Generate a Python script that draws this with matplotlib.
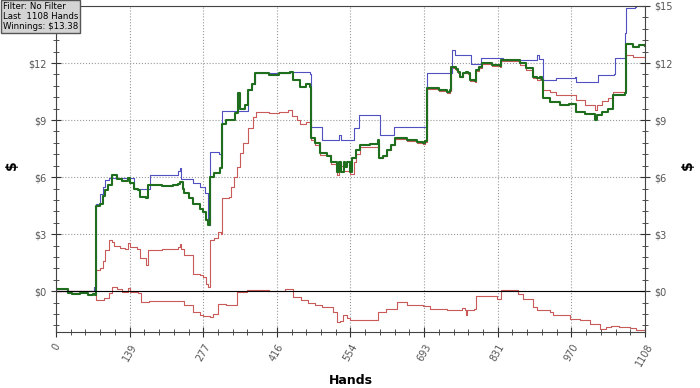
import numpy as np
import matplotlib
matplotlib.use('Agg')
import matplotlib.pyplot as plt
from matplotlib.ticker import AutoMinorLocator, FixedLocator

# Net won (green, thick)
net_hands = [0, 20, 22, 30, 45, 60, 70, 74, 75, 83, 88, 92, 98, 105, 115, 125, 136, 140, 146,
             155, 158, 170, 174, 200, 220, 230, 234, 238, 240, 250, 258, 270, 277, 283, 286,
             290, 298, 308, 312, 320, 336, 343, 346, 355, 362, 368, 374, 400, 420, 440, 446,
             459, 470, 478, 480, 487, 497, 510, 518, 528, 533, 536, 541, 544, 548, 554, 557,
             565, 572, 590, 606, 608, 615, 622, 630, 638, 660, 680, 691, 695, 697, 720, 735,
             742, 744, 752, 756, 760, 766, 772, 776, 779, 788, 791, 796, 801, 820, 835, 838,
             850, 873, 885, 898, 904, 910, 915, 917, 930, 948, 965, 976, 979, 995, 1014, 1017,
             1028, 1039, 1048, 1071, 1072, 1085, 1097, 1108]
net_won = [0.1, 0.1, -0.1, -0.15, -0.1, -0.2, -0.15, -0.2, 4.5, 4.6, 5.0, 5.3, 5.6, 6.1, 5.9,
           5.8, 5.95, 5.7, 5.4, 5.3, 4.96, 4.9, 5.58, 5.55, 5.6, 5.65, 5.75, 5.4, 5.15, 4.9,
           4.6, 4.3, 4.17, 3.74, 3.47, 6.0, 6.2, 6.5, 8.8, 9.0, 9.35, 10.4, 9.6, 9.8, 10.58,
           10.9, 11.45, 11.35, 11.45, 11.55, 11.1, 10.75, 10.9, 10.75, 8.04, 7.77, 7.25, 7.1,
           6.8, 6.28, 6.8, 6.28, 6.8, 6.55, 6.8, 6.28, 6.98, 7.42, 7.68, 7.75, 7.95, 6.98, 7.1,
           7.42, 7.68, 8.04, 7.95, 7.85, 7.77, 7.9, 10.67, 10.6, 10.5, 10.6, 11.8, 11.7, 11.55,
           11.28, 11.5, 11.55, 11.45, 11.1, 11.05, 11.63, 11.8, 12.0, 11.9, 11.85, 12.16, 12.15,
           11.98, 11.72, 11.28, 11.2, 11.28, 11.1, 10.14, 9.96, 9.79, 9.84, 9.84, 9.43, 9.3,
           9.0, 9.26, 9.43, 9.6, 10.3, 10.4, 13.0, 12.86, 12.95, 12.9]

# All-in EV (blue)
ev_hands = [0, 70, 72, 75, 82, 88, 92, 99, 140, 146, 174, 177, 225, 230, 234, 236, 255, 258,
            271, 280, 286, 290, 306, 310, 312, 360, 362, 368, 374, 440, 478, 480, 499, 500,
            530, 532, 536, 560, 561, 570, 609, 610, 634, 635, 697, 698, 744, 745, 750, 780,
            781, 799, 800, 838, 840, 903, 904, 908, 916, 917, 940, 976, 979, 1018, 1019, 1050,
            1051, 1070, 1071, 1072, 1090, 1092, 1108]
ev_won = [0.0, 0.0, 0.2, 4.6, 5.1, 5.5, 5.84, 5.95, 5.95, 5.4, 5.4, 6.1, 6.1, 6.3, 6.5, 5.9,
          5.9, 5.7, 5.49, 5.14, 3.5, 7.33, 7.2, 7.0, 9.5, 9.5, 10.58, 10.9, 11.45, 11.55, 11.4,
          8.65, 8.65, 7.95, 7.95, 8.2, 7.95, 7.95, 8.56, 9.26, 9.26, 8.2, 8.2, 8.65, 8.65,
          11.45, 11.5, 12.68, 12.42, 12.42, 11.95, 11.95, 12.25, 12.25, 12.16, 12.16, 12.42,
          12.2, 12.2, 11.1, 11.2, 11.28, 11.02, 11.02, 11.37, 11.4, 12.25, 12.25, 13.56,
          14.88, 14.93, 15.3, 15.3]

# Showdown winnings (upper red)
sd_hands = [0, 70, 75, 83, 88, 92, 100, 105, 110, 120, 130, 136, 140, 152, 158, 170, 174, 200,
            225, 230, 234, 236, 240, 258, 270, 277, 283, 286, 290, 298, 305, 310, 312, 325,
            330, 334, 340, 346, 352, 362, 371, 377, 400, 420, 437, 444, 453, 459, 470, 478,
            480, 487, 497, 518, 528, 533, 540, 554, 560, 565, 572, 600, 605, 607, 615, 622,
            630, 638, 660, 680, 691, 695, 697, 720, 735, 742, 744, 752, 756, 760, 766, 772,
            776, 779, 788, 791, 796, 801, 820, 835, 838, 850, 873, 885, 898, 904, 910, 917,
            930, 940, 976, 979, 995, 1014, 1017, 1028, 1039, 1048, 1071, 1072, 1085, 1108]
sd_won = [0.0, 0.0, 1.1, 1.2, 1.6, 2.15, 2.68, 2.6, 2.4, 2.26, 2.2, 2.54, 2.35, 2.2, 1.73,
          1.37, 2.15, 2.2, 2.2, 2.35, 2.5, 2.2, 1.9, 0.93, 0.84, 0.75, 0.4, 0.23, 2.68, 2.8,
          3.12, 3.0, 4.88, 4.95, 5.5, 6.0, 6.54, 7.25, 7.77, 8.56, 9.17, 9.43, 9.35, 9.43,
          9.52, 9.2, 9.0, 8.8, 8.9, 8.8, 7.95, 7.68, 7.15, 6.7, 6.1, 6.6, 6.3, 6.19, 6.8,
          7.2, 7.6, 7.6, 7.77, 6.98, 7.1, 7.42, 7.68, 8.0, 7.9, 7.8, 7.72, 7.85, 10.62, 10.55,
          10.45, 10.55, 11.75, 11.65, 11.5, 11.25, 11.45, 11.5, 11.4, 11.05, 11.0, 11.6, 11.75,
          11.95, 11.85, 11.8, 12.1, 12.1, 11.9, 11.65, 11.2, 11.1, 11.2, 10.6, 10.5, 10.3,
          10.3, 10.05, 9.8, 9.52, 9.79, 10.0, 10.14, 10.5, 10.6, 12.42, 12.33, 12.33]

# Non-showdown winnings (lower red)
nsd_hands = [0, 74, 75, 90, 100, 105, 115, 125, 136, 140, 155, 160, 175, 230, 240, 258, 271,
             277, 290, 295, 305, 320, 330, 340, 360, 400, 430, 440, 446, 460, 475, 487, 500,
             522, 528, 535, 540, 548, 553, 559, 590, 606, 620, 641, 660, 690, 703, 735, 763,
             770, 772, 774, 787, 791, 829, 838, 860, 870, 879, 898, 905, 930, 935, 967, 985,
             1004, 1023, 1035, 1045, 1060, 1080, 1092, 1108]
nsd_won = [0.0, 0.0, -0.44, -0.35, -0.1, 0.23, 0.1, -0.03, 0.15, -0.03, -0.1, -0.56, -0.5,
           -0.5, -0.74, -1.09, -1.26, -1.3, -1.35, -1.2, -0.65, -0.7, -0.7, -0.03, 0.06, 0.0,
           0.14, 0.1, -0.3, -0.45, -0.6, -0.74, -0.85, -1.09, -1.6, -1.55, -1.26, -1.4, -1.5,
           -1.53, -1.5, -1.09, -0.95, -0.56, -0.7, -0.8, -0.91, -1.0, -0.9, -1.0, -1.26, -1.0,
           -0.91, -0.25, -0.39, 0.05, 0.05, -0.14, -0.39, -0.82, -1.0, -1.1, -1.26, -1.44, -1.5,
           -1.7, -1.96, -1.9, -1.84, -1.9, -1.95, -2.05, -2.05]

x_labels = ['0', '139', '277', '416', '554', '693', '831', '970', '1108']
y_values = [0, 3, 6, 9, 12, 15]
info_lines = ['Filter: No Filter', 'Last  1108 Hands', 'Winnings: $13.38']
total_hands = 1108

fig = plt.figure(figsize=(7, 3.88), dpi=100)
ax = fig.add_axes([0.08, 0.144, 0.8414, 0.8406])

ax.plot(nsd_hands, nsd_won, drawstyle='steps-post', color='#c85a5a', lw=0.8)
ax.plot(sd_hands, sd_won, drawstyle='steps-post', color='#c85a5a', lw=0.8)
ax.plot(ev_hands, ev_won, drawstyle='steps-post', color='#5050c0', lw=0.8)
ax.plot(net_hands, net_won, drawstyle='steps-post', color='#1e6e1e', lw=1.5)
ax.axhline(0, color='black', lw=0.8)

ax.set_xlim(0, total_hands)
ax.set_ylim(-2.15, 15)

xt = np.linspace(0, total_hands, len(x_labels))
ax.xaxis.set_major_locator(FixedLocator(xt))
ax.set_xticklabels(x_labels, rotation=60, ha='center', va='top')
ax.xaxis.set_minor_locator(AutoMinorLocator(5))
ax.set_yticks(y_values)
ax.set_yticklabels([f'${v}' for v in y_values])
ax.yaxis.set_minor_locator(AutoMinorLocator(5))

ax.tick_params(which='both', direction='inout', colors='#333333', labelcolor='#555555',
               labelsize=7, right=True, labelright=True)
ax.tick_params(which='major', length=7)
ax.tick_params(which='minor', length=5)
ax.grid(which='major', linestyle=':', color='#999999', lw=0.8)
for s in ax.spines.values():
    s.set_color('#444444')

# the info box covers the left $15 label in the original
ax.yaxis.get_major_ticks()[-1].label1.set_visible(False)

ax.set_xlabel('Hands', fontsize=9, fontweight='bold', labelpad=4)
fig.text(0.017, 0.575, '$', rotation=90, fontsize=10, fontweight='bold', va='center', ha='center')
fig.text(0.983, 0.575, '$', rotation=90, fontsize=10, fontweight='bold', va='center', ha='center')

fig.text(0.004, 0.994, '\n'.join(info_lines), fontsize=6.2, va='top', ha='left',
         linespacing=1.1, zorder=10,
         bbox=dict(boxstyle='square,pad=0.25', facecolor='#d4d4d4', edgecolor='#555555', lw=1))

fig.savefig('out.png', dpi=100)
